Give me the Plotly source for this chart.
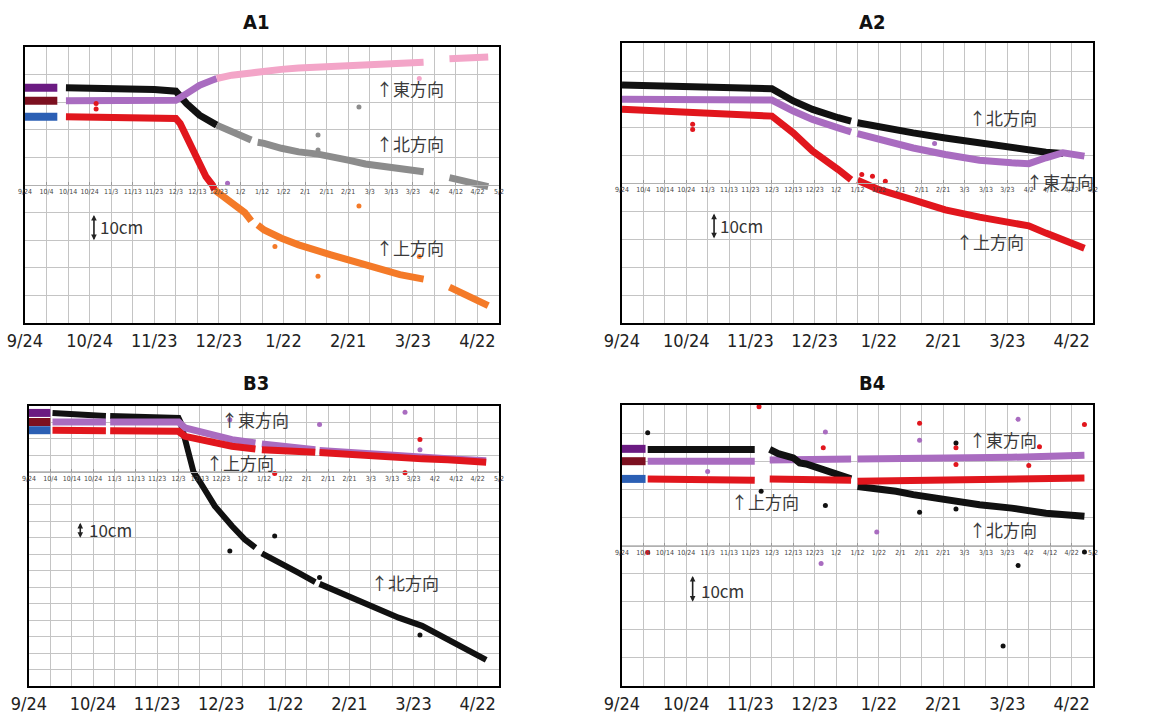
import plotly.graph_objects as go

W, H = 1160, 713

# ---------------- tick labels ----------------
MAIN_TICKS = ["9/24", "10/24", "11/23", "12/23", "1/22", "2/21", "3/23", "4/22"]
INNER_TICKS = ["9/24", "10/4", "10/14", "10/24", "11/3", "11/13", "11/23", "12/3",
               "12/13", "12/23", "1/2", "1/12", "1/22", "2/1", "2/11", "2/21",
               "3/3", "3/13", "3/23", "4/2", "4/12", "4/22", "5/2"]
X_START, X_END = "9/24", "5/2"
TITLES = ["A1", "A2", "B3", "B4"]
LABEL_E, LABEL_N, LABEL_U, LABEL_SCALE = "↑東方向", "↑北方向", "↑上方向", "10cm"

# ---------------- A1 (cm) ----------------
a1_n_pre_d = ["9/24", "10/9"]
a1_n_pre_v = [35.2, 35.2]
a1_n_d = ["10/13", "11/1", "11/23", "12/3", "12/8", "12/14", "12/20", "12/22"]
a1_n_v = [35.2, 35.0, 34.6, 34.0, 29.5, 25.3, 22.9, 21.7]
a1_n_late_d = ["12/22", "12/29", "1/7", None, "1/10", "1/13", "1/21", "1/29", "2/7", "2/13",
               "2/21", "3/1", "3/9", "3/17", "3/28", None, "4/9", "4/17", "4/27"]
a1_n_late_v = [21.7, 19.3, 16.3, None, 15.5, 15.1, 13.3, 12.0, 11.2, 10.0,
               9.0, 7.6, 6.6, 5.8, 4.8, None, 2.7, 1.2, -0.6]
a1_e_pre_d = ["9/24", "10/9"]
a1_e_pre_v = [30.5, 30.5]
a1_e_d = ["10/13", "11/23", "12/3", "12/8", "12/14", "12/20", "12/22"]
a1_e_v = [30.5, 30.6, 30.7, 33.1, 36.1, 38.0, 38.6]
a1_e_late_d = ["12/22", "12/29", "1/7", "1/13", "1/21", "1/29", "2/13", "3/1", "3/17",
               "3/28", None, "4/9", "4/27"]
a1_e_late_v = [38.6, 39.8, 40.6, 41.3, 41.9, 42.4, 43.0, 43.6, 44.1, 44.5, None, 45.7, 46.4]
a1_u_pre_d = ["9/24", "10/9"]
a1_u_pre_v = [24.7, 24.7]
a1_u_d = ["10/13", "10/27", "11/23", "12/3", "12/5", "12/8", "12/11", "12/14", "12/17",
          "12/20", "12/21"]
a1_u_v = [24.7, 24.5, 24.3, 24.1, 22.3, 17.5, 12.7, 7.8, 3.0, 0.0, -1.8]
a1_u_late_d = ["12/21", "12/29", "1/4", "1/7", None, "1/10", "1/13", "1/21", "1/29", "2/13",
               "3/1", "3/17", "3/28", None, "4/9", "4/17", "4/27"]
a1_u_late_v = [-1.8, -6.6, -10.0, -13.0, None, -14.5, -16.3, -19.3, -21.7, -25.3,
               -28.9, -32.5, -34.1, None, -37.0, -39.8, -43.7]
a1_out_gray_d = ["2/26", "2/7", "2/7"]
a1_out_gray_v = [28.3, 18.1, 12.7]
a1_out_orange_d = ["2/26", "1/18", "2/7", "3/26"]
a1_out_orange_v = [-7.6, -22.3, -33.1, -25.9]
a1_out_pink_d = ["3/26"]
a1_out_pink_v = [38.6]
a1_out_purple_d = ["12/27"]
a1_out_purple_v = [0.6]
a1_out_red_d = ["10/27", "10/27"]
a1_out_red_v = [27.5, 29.5]

# ---------------- A2 (cm) ----------------
a2_n_d = ["9/24", "10/27", "11/23", "12/3", "12/13", "12/22", "1/3", "1/9", None, "1/12",
          "1/16", "1/22", "2/7", "2/22", "3/10", "3/25", "4/10", "4/18"]
a2_n_v = [35.0, 34.5, 34.0, 33.7, 29.3, 26.3, 23.3, 22.1, None, 21.5,
          20.9, 19.7, 17.9, 16.1, 14.3, 12.5, 11.0, 10.5]
a2_e_d = ["9/24", "12/3", "12/13", "12/22", "1/3", "1/9", None, "1/12", "1/22", "2/7",
          "2/22", "3/10", "3/25", "4/2", "4/10", "4/18", "4/28"]
a2_e_v = [29.9, 29.6, 25.7, 22.7, 19.7, 18.2, None, 17.6, 15.5, 12.5,
          10.2, 8.1, 7.2, 6.9, 9.0, 10.8, 9.6]
a2_u_d = ["9/24", "11/5", "12/3", "12/13", "12/22", "1/3", "1/9", None, "1/12", "1/22",
          "2/7", "2/22", "3/10", "3/25", "4/2", "4/10", "4/28"]
a2_u_v = [26.3, 24.5, 23.9, 17.9, 11.4, 4.8, 1.2, None, 1.0, -2.4,
          -6.0, -9.6, -12.2, -14.1, -15.3, -17.9, -23.3]
a2_out_purple_d = ["2/17"]
a2_out_purple_v = [14.1]
a2_out_red_d = ["10/27", "10/27", "1/14", "1/19", "1/25"]
a2_out_red_v = [21.0, 19.1, 3.0, 2.4, 0.6]

# ---------------- B3 (cm) ----------------
b3_n_pre_d = ["9/24", "10/4"]
b3_n_pre_v = [35.8, 35.8]
b3_n_d = ["10/5", "10/27", "10/30", None, "11/1", "12/3", "12/4", "12/6", "12/8", "12/10",
          "12/13", "12/16", "12/20", "12/28", "1/3", "1/8", None, "1/11", "1/20", "1/28",
          "2/5", None, "2/7", "2/13", "2/28", "3/16", "3/27", "4/8", "4/16", "4/26"]
b3_n_v = [35.8, 34.1, 34.0, None, 33.9, 32.7, 30.0, 19.0, 8.0, 0.0,
          -6.0, -12.7, -20.8, -32.9, -41.0, -46.0, None, -49.5, -56.2, -61.2,
          -66.9, None, -68.0, -71.3, -80.4, -88.5, -93.5, -101.6, -106.7, -114.1]
b3_e_pre_d = ["9/24", "10/4"]
b3_e_pre_v = [30.3, 30.3]
b3_e_d = ["10/5", "10/30", None, "11/1", "12/3", "12/6", "12/13", "12/20", "12/28", "1/8",
          None, "1/11", "1/20", "2/5", None, "2/7", "2/13", "2/28", "3/16", "3/27", "4/8", "4/26"]
b3_e_v = [30.3, 30.3, None, 30.3, 30.3, 26.7, 24.6, 21.6, 19.6, 17.6,
          None, 17.0, 15.6, 13.5, None, 13.0, 12.4, 11.0, 9.6, 8.9, 8.0, 6.8]
b3_u_pre_d = ["9/24", "10/4"]
b3_u_pre_v = [25.3, 25.3]
b3_u_d = ["10/5", "10/30", None, "11/1", "12/3", "12/6", "12/13", "12/20", "12/28", "1/8",
          None, "1/11", "1/20", "2/5", None, "2/7", "2/13", "2/28", "3/16", "3/27", "4/8", "4/26"]
b3_u_v = [25.3, 25.0, None, 24.9, 24.6, 21.6, 19.6, 17.6, 15.6, 13.9,
          None, 13.5, 13.1, 11.9, None, 11.7, 11.1, 9.9, 8.5, 7.9, 7.3, 5.9]
b3_out_purple_d = ["3/19", "2/7", "3/26", "12/27"]
b3_out_purple_v = [36.2, 28.7, 13.5, 31.7]
b3_out_red_d = ["3/26", "3/19", "1/17"]
b3_out_red_v = [19.6, -0.6, -1.0]
b3_out_black_d = ["12/27", "1/17", "2/7", "3/26"]
b3_out_black_v = [-48.1, -39.0, -64.2, -99.0]

# ---------------- B4 (cm) ----------------
b4_n_pre_d = ["9/24", "10/5"]
b4_n_pre_v = [34.4, 34.4]
b4_n_d = ["10/6", "11/25", None, "12/2", "12/6", "12/13", "12/16", "12/19", "12/25",
          "12/31", "1/9", None, "1/12", "1/19", "1/30", "2/7", "2/22", "3/10", "3/25",
          "4/10", "4/28"]
b4_n_v = [34.2, 34.2, None, 34.2, 32.7, 31.2, 29.4, 29.0, 27.6,
          25.8, 23.7, None, 21.0, 20.5, 19.3, 18.1, 16.3, 14.5, 13.3,
          11.5, 10.4]
b4_e_pre_d = ["9/24", "10/5"]
b4_e_pre_v = [30.0, 30.0]
b4_e_d = ["10/6", "11/25", None, "12/2", "1/9", None, "1/12", "2/22", "3/25", "4/28"]
b4_e_v = [30.0, 30.0, None, 30.4, 30.8, None, 30.8, 31.0, 31.4, 32.1]
b4_u_pre_d = ["9/24", "10/5"]
b4_u_pre_v = [23.7, 23.7]
b4_u_d = ["10/6", "11/25", None, "12/2", "1/9", None, "1/12", "2/7", "3/10", "4/10", "4/28"]
b4_u_v = [23.7, 23.2, None, 23.7, 23.2, None, 22.9, 23.2, 23.5, 24.0, 24.0]
b4_out_red_d = ["11/27", "2/10", "4/28", "12/27", "2/27", "4/7", "4/2", "2/27", "10/6"]
b4_out_red_v = [49.4, 43.5, 43.1, 34.8, 34.8, 35.1, 28.5, 28.8, -2.5]
b4_out_black_d = ["10/6", "2/27", "12/28", "2/10", "2/27", "3/21", "3/28", "4/28", "11/28"]
b4_out_black_v = [40.1, 36.5, 14.2, 11.8, 13.0, -35.8, -7.1, -2.3, 19.3]
b4_out_purple_d = ["12/28", "2/10", "3/28", "11/3", "1/21", "12/26"]
b4_out_purple_v = [40.4, 37.5, 44.9, 26.3, 4.8, -6.4]

# ---------------- styles ----------------
C_PRE_N, C_PRE_E, C_PRE_U = "#6b1b82", "#7c1020", "#2b5fb4"
C_BLACK, C_PURPLE, C_RED = "#111111", "#a96cc0", "#e1161d"
C_GRAY, C_PINK, C_ORANGE = "#8c8c8c", "#f3a5c8", "#f47a28"
GRID = "#c4c4c4"
FONT_NUM = "DejaVu Sans Condensed, DejaVu Sans, sans-serif"
FONT_JP = "Noto Sans CJK JP, Noto Sans, sans-serif"

# panel boxes in pixels: left, right, top, bottom ; y-ranges in cm
PANELS = [
    dict(box=(25, 499, 47, 323), yr=(-50, 50), title=(256, 22)),
    dict(box=(622, 1093, 43, 323), yr=(-50, 50), title=(872, 22)),
    dict(box=(29, 499, 406, 686), yr=(-130, 40), title=(256, 383)),
    dict(box=(622, 1093, 405, 686), yr=(-50, 50), title=(872, 383)),
]


def dt(s):
    if s is None:
        return None
    m, d = s.split("/")
    y = 2010 if int(m) >= 9 else 2011
    return f"{y}-{int(m):02d}-{int(d):02d}"


def ax_names(i):
    return ("x" if i == 1 else f"x{i}"), ("y" if i == 1 else f"y{i}")


fig = go.Figure()
LW = 7


def add_line(i, d, v, color, w=LW):
    xa, ya = ax_names(i)
    fig.add_trace(go.Scatter(x=[dt(s) for s in d], y=v, mode="lines",
                             line=dict(color=color, width=w),
                             xaxis=xa, yaxis=ya, showlegend=False, hoverinfo="skip"))


def add_dots(i, d, v, color, size=5):
    xa, ya = ax_names(i)
    fig.add_trace(go.Scatter(x=[dt(s) for s in d], y=v, mode="markers",
                             marker=dict(color=color, size=size),
                             xaxis=xa, yaxis=ya, showlegend=False, hoverinfo="skip"))


# A1
add_line(1, a1_n_pre_d, a1_n_pre_v, C_PRE_N, 8)
add_line(1, a1_e_pre_d, a1_e_pre_v, C_PRE_E, 8)
add_line(1, a1_u_pre_d, a1_u_pre_v, C_PRE_U, 8)
add_line(1, a1_n_d, a1_n_v, C_BLACK)
add_line(1, a1_n_late_d, a1_n_late_v, C_GRAY)
add_line(1, a1_e_d, a1_e_v, C_PURPLE)
add_line(1, a1_e_late_d, a1_e_late_v, C_PINK)
add_line(1, a1_u_d, a1_u_v, C_RED)
add_line(1, a1_u_late_d, a1_u_late_v, C_ORANGE)
add_dots(1, a1_out_gray_d, a1_out_gray_v, C_GRAY)
add_dots(1, a1_out_orange_d, a1_out_orange_v, C_ORANGE)
add_dots(1, a1_out_pink_d, a1_out_pink_v, C_PINK)
add_dots(1, a1_out_purple_d, a1_out_purple_v, C_PURPLE)
add_dots(1, a1_out_red_d, a1_out_red_v, C_RED)

# A2
add_line(2, a2_n_d, a2_n_v, C_BLACK)
add_line(2, a2_e_d, a2_e_v, C_PURPLE)
add_line(2, a2_u_d, a2_u_v, C_RED)
add_dots(2, a2_out_purple_d, a2_out_purple_v, C_PURPLE)
add_dots(2, a2_out_red_d, a2_out_red_v, C_RED)

# B3
add_line(3, b3_n_pre_d, b3_n_pre_v, C_PRE_N, 8)
add_line(3, b3_e_pre_d, b3_e_pre_v, C_PRE_E, 8)
add_line(3, b3_u_pre_d, b3_u_pre_v, C_PRE_U, 8)
add_line(3, b3_n_d, b3_n_v, C_BLACK, 6)
add_line(3, b3_e_d, b3_e_v, C_PURPLE)
add_line(3, b3_u_d, b3_u_v, C_RED)
add_dots(3, b3_out_purple_d, b3_out_purple_v, C_PURPLE)
add_dots(3, b3_out_red_d, b3_out_red_v, C_RED)
add_dots(3, b3_out_black_d, b3_out_black_v, C_BLACK)

# B4
add_line(4, b4_n_pre_d, b4_n_pre_v, C_PRE_N, 8)
add_line(4, b4_e_pre_d, b4_e_pre_v, C_PRE_E, 8)
add_line(4, b4_u_pre_d, b4_u_pre_v, C_PRE_U, 8)
add_line(4, b4_e_d, b4_e_v, C_PURPLE)
add_line(4, b4_n_d, b4_n_v, C_BLACK)
add_line(4, b4_u_d, b4_u_v, C_RED)
add_dots(4, b4_out_red_d, b4_out_red_v, C_RED)
add_dots(4, b4_out_black_d, b4_out_black_v, C_BLACK)
add_dots(4, b4_out_purple_d, b4_out_purple_v, C_PURPLE)

# ---------------- axes ----------------
layout = dict(width=W, height=H, autosize=False,
              margin=dict(l=0, r=0, t=0, b=0, pad=0, autoexpand=False),
              paper_bgcolor="white", plot_bgcolor="white", showlegend=False)
xr = [dt(X_START), dt(X_END)]
for i, p in enumerate(PANELS, start=1):
    l, r, t, b = p["box"]
    y0, y1 = p["yr"]
    xd = [l / W, r / W]
    yd = [1 - b / H, 1 - t / H]
    xa, ya = ax_names(i)
    key = "" if i == 1 else str(i)
    layout["xaxis" + key] = dict(
        domain=xd, anchor=ya, type="date", range=xr, automargin=False,
        tickmode="array", tickvals=[dt(s) for s in MAIN_TICKS], ticktext=MAIN_TICKS,
        tickfont=dict(size=18, family=FONT_NUM, color="#222"),
        showgrid=True, gridcolor=GRID, gridwidth=1,
        minor=dict(dtick=864000000, tick0=dt(X_START), showgrid=True,
                   gridcolor=GRID, gridwidth=1),
        showline=True, mirror=True, linecolor="black", linewidth=2,
        ticks="", zeroline=False)
    layout["yaxis" + key] = dict(
        domain=yd, anchor=xa, range=[y0, y1], dtick=10, tick0=0, automargin=False,
        showticklabels=False, showgrid=True, gridcolor=GRID, gridwidth=1,
        showline=True, mirror=True, linecolor="black", linewidth=2,
        ticks="", zeroline=False)
    # inner date axis at y = 0
    zero_px = t + (y1 - 0) / (y1 - y0) * (b - t)
    pos = 1 - zero_px / H
    layout[f"xaxis{i + 4}"] = dict(
        overlaying=xa, anchor="free", position=pos, side="bottom", type="date",
        range=xr, automargin=False, tickmode="array", tickvals=[dt(s) for s in INNER_TICKS],
        ticktext=INNER_TICKS, tickfont=dict(size=7, family=FONT_NUM, color="#444"),
        ticks="inside", ticklen=3, tickcolor="#999", showline=True,
        linecolor="#b0b0b0", linewidth=1, showgrid=False, zeroline=False)
    fig.add_trace(go.Scatter(x=[xr[0]], y=[None], mode="markers", xaxis=f"x{i + 4}",
                             yaxis=ya, showlegend=False, hoverinfo="skip"))

fig.update_layout(**layout)

# ---------------- annotations ----------------
LABELS = [
    [(LABEL_E, "3/5", 35.0), (LABEL_N, "3/5", 15.2), (LABEL_U, "3/5", -22.7)],
    [(LABEL_N, "3/4", 23.4), (LABEL_E, "3/31", 0.5), (LABEL_U, "2/26", -21.0)],
    [(LABEL_E, "12/22", 31.8), (LABEL_U, "12/15", 5.6), (LABEL_N, "3/2", -67.2)],
    [(LABEL_E, "3/4", 37.7), (LABEL_N, "3/4", 5.6), (LABEL_U, "11/13", 15.6)],
]
SCALES = [
    ("10/26", -10.3, -20.0, "10/28", -15.0),
    ("11/6", -10.4, -19.8, "11/8", -15.2),
    ("10/18", -30.0, -40.0, "10/21", -35.0),
    ("10/27", -10.3, -20.0, "10/30", -16.0),
]
anns = []
for i, p in enumerate(PANELS, start=1):
    xa, ya = ax_names(i)
    tx, ty = p["title"]
    anns.append(dict(text="<b>" + TITLES[i - 1] + "</b>", x=tx / W, y=1 - ty / H,
                     xref="paper", yref="paper",
                     showarrow=False, xanchor="center", yanchor="middle",
                     font=dict(size=20, family=FONT_NUM, color="#111")))
    for txt, d, v in LABELS[i - 1]:
        anns.append(dict(text=txt, x=dt(d), y=v, xref=xa, yref=ya, showarrow=False,
                         xanchor="left", yanchor="middle",
                         font=dict(size=17, family=FONT_JP, color="#3a3a3a")))
    sd, s_top, s_bot, td, tv = SCALES[i - 1]
    anns.append(dict(text="", x=dt(sd), y=s_bot, ax=dt(sd), ay=s_top, xref=xa, yref=ya,
                     axref=xa, ayref=ya, showarrow=True, arrowhead=2, arrowside="end+start",
                     arrowsize=0.7, arrowwidth=1.6, arrowcolor="#222"))
    anns.append(dict(text=LABEL_SCALE, x=dt(td), y=tv, xref=xa, yref=ya, showarrow=False,
                     xanchor="left", yanchor="middle",
                     font=dict(size=17, family=FONT_JP, color="#333")))
fig.update_layout(annotations=anns)

fig.write_html("out.html", config={"displayModeBar": False},
               post_script="document.body.style.margin='0';document.body.style.overflow='hidden';")
